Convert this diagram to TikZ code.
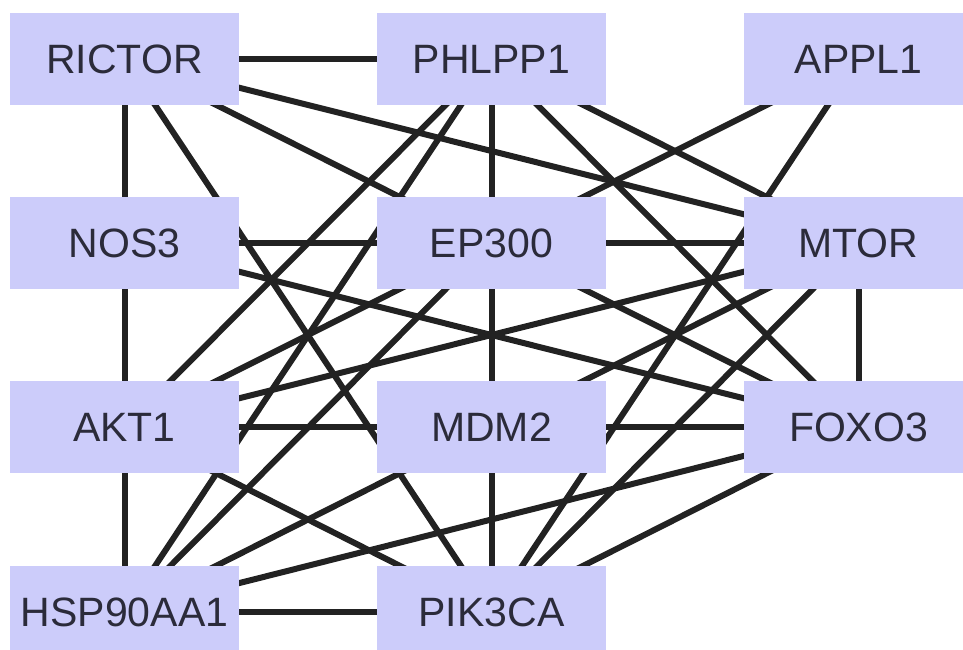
\documentclass[tikz,border=0pt]{standalone}
\usepackage{fontspec}
\setmainfont{Liberation Sans}
\definecolor{boxfill}{HTML}{CCCCFA}
\definecolor{boxtext}{HTML}{2B2B3A}
\definecolor{edgecol}{HTML}{222222}
\pgfdeclarelayer{edges}
\pgfsetlayers{edges,main}
\tikzset{
  gene/.style={rectangle, fill=boxfill, draw=none, minimum width=229pt,
    minimum height=92pt, inner sep=0pt, text=boxtext,
    font=\fontsize{41pt}{41pt}\selectfont},
  link/.style={draw=edgecol, line width=6pt}
}
\begin{document}
\begin{tikzpicture}[x=1pt, y=-1pt]
  \useasboundingbox (0,0) rectangle (963,650);
  \begin{scope}
    \clip (0,0) rectangle (963,650);
    % genes on a 3-column grid
    \node[gene] (rictor)   at (124.5, 59)  {RICTOR};
    \node[gene] (phlpp1)   at (491.5, 59)  {PHLPP1};
    \node[gene] (appl1)    at (858.5, 59)  {APPL1};
    \node[gene] (nos3)     at (124.5, 243) {NOS3};
    \node[gene] (ep300)    at (491.5, 243) {EP300};
    \node[gene] (mtor)     at (858.5, 243) {MTOR};
    \node[gene] (akt1)     at (124.5, 427) {AKT1};
    \node[gene] (mdm2)     at (491.5, 427) {MDM2};
    \node[gene] (foxo3)    at (858.5, 427) {FOXO3};
    \node[gene] (hsp90aa1) at (124.5, 612) {HSP90AA1};
    \node[gene] (pik3ca)   at (491.5, 612) {PIK3CA};
    % interactions, centre to centre, behind the boxes
    \begin{pgfonlayer}{edges}
      \foreach \a/\b in {
        rictor/phlpp1, rictor/nos3, rictor/pik3ca, rictor/foxo3, rictor/mtor,
        phlpp1/ep300, phlpp1/akt1, phlpp1/hsp90aa1, phlpp1/foxo3, phlpp1/mtor,
        appl1/ep300, appl1/pik3ca,
        nos3/ep300, nos3/akt1, nos3/foxo3,
        ep300/mtor, ep300/mdm2, ep300/akt1, ep300/hsp90aa1,
        mtor/akt1, mtor/mdm2, mtor/pik3ca, mtor/foxo3,
        akt1/mdm2, akt1/hsp90aa1, akt1/pik3ca,
        mdm2/foxo3, mdm2/pik3ca, mdm2/hsp90aa1,
        foxo3/hsp90aa1, foxo3/pik3ca,
        hsp90aa1/pik3ca}
        \draw[link] (\a.center) -- (\b.center);
    \end{pgfonlayer}
  \end{scope}
\end{tikzpicture}
\end{document}
